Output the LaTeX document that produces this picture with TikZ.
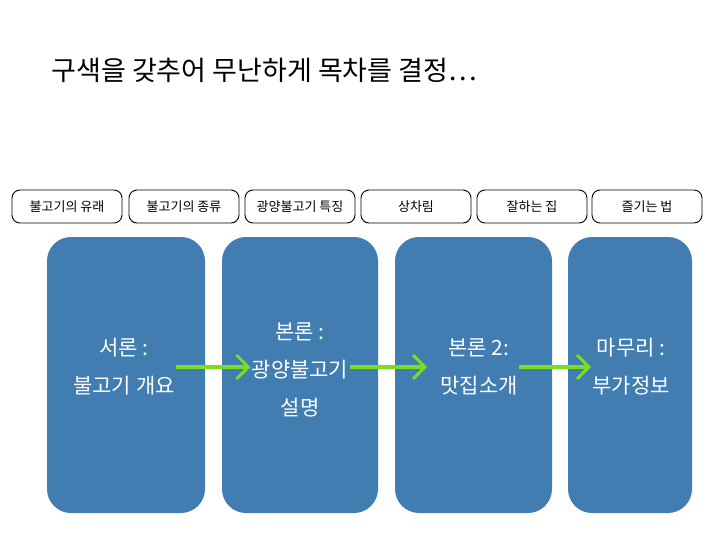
\documentclass[tikz,border=0pt]{standalone}
\usepackage{fontspec}
\setmainfont{Noto Sans CJK KR}
\usetikzlibrary{arrows.meta}
\definecolor{slideblue}{RGB}{65,125,176}
\definecolor{limegreen}{RGB}{122,222,32}

\begin{document}
\begin{tikzpicture}[x=1pt, y=-1pt,
  topic/.style={rectangle, draw=black, rounded corners=8pt, line width=0.9pt,
                font=\fontsize{13}{15}\selectfont, minimum width=110pt, minimum height=33pt},
  part/.style={rectangle, fill=slideblue, rounded corners=24pt},
  ptext/.style={text=white, font=\fontsize{21}{38}\selectfont, align=center, inner sep=1pt},
  flow/.style={-{Straight Barb[length=12pt, width=24pt, line width=3pt]}, line width=3.5pt, limegreen},
]
  \useasboundingbox (0,0) rectangle (728,546);

  \node[anchor=west, font=\fontsize{27}{30}\selectfont] (title) at (48,70)
    {구색을 갖추어 무난하게 목차를 결정…};

  % topics
  \node[topic] (k1) at (67,206.5)  {불고기의 유래};
  \node[topic] (k2) at (184,206.5) {불고기의 종류};
  \node[topic] (k3) at (300,206.5) {광양불고기 특징};
  \node[topic] (k4) at (416,206.5) {상차림};
  \node[topic] (k5) at (532,206.5) {잘하는 집};
  \node[topic] (k6) at (647,206.5) {즐기는 법};

  % parts
  \node[part, minimum width=158pt, minimum height=276pt] (b1) at (126,375) {};
  \node[part, minimum width=156pt, minimum height=276pt] (b2) at (300,375) {};
  \node[part, minimum width=157pt, minimum height=276pt] (b3) at (473.5,375) {};
  \node[part, minimum width=124pt, minimum height=276pt] (b4) at (630,375) {};

  \node[ptext] (t1) at (124,367) {서론 :\\불고기 개요};
  \node[ptext] (t2) at (300,370) {본론 :\\광양불고기\\설명};
  \node[ptext] (t3) at (479,367) {본론 2:\\맛집소개};
  \node[ptext] (t4) at (631,367) {마무리 :\\부가정보};

  \draw[flow] (t1.east |- 0,367) -- (t2.west |- 0,367);
  \draw[flow] (t2.east |- 0,367) -- ([xshift=-12pt]t3.west |- 0,367);
  \draw[flow] (t3.east |- 0,367) -- (t4.west |- 0,367);
\end{tikzpicture}
\end{document}
